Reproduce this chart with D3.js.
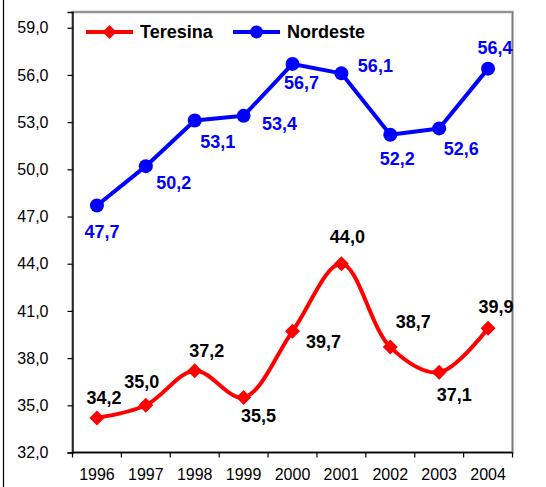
<!DOCTYPE html>
<html>
<head>
<meta charset="utf-8">
<script src="https://cdn.jsdelivr.net/npm/d3@7"></script>
<style>
  html, body { margin: 0; padding: 0; background: #fff; }
  svg { display: block; font-family: "Liberation Sans", Arial, sans-serif; }
</style>
</head>
<body>
<svg id="chart" width="546" height="487"></svg>
<script>
// Years on the category axis
const years = ["1996", "1997", "1998", "1999", "2000", "2001", "2002", "2003", "2004"];
// Series values
const teresina = [34.2, 35.0, 37.2, 35.5, 39.7, 44.0, 38.7, 37.1, 39.9];
const nordeste = [47.7, 50.2, 53.1, 53.4, 56.7, 56.1, 52.2, 52.6, 56.4];
// Value axis ticks
const yTicks = [32, 35, 38, 41, 44, 47, 50, 53, 56, 59];

// Label placement around each marker (pixels)
const teresinaLabelOffset = [[7,-20],[-4,-23],[12,-20],[15,19],[31,11],[6,-27],[23,-25],[15,23],[8,-21]];
const nordesteLabelOffset = [[5,26],[28,17],[23,21],[36,8],[9,19],[34,-7],[7,24],[22,21],[7,-21]];

const fmt = v => v.toFixed(1).replace(".", ",");

const svg = d3.select("#chart");
const plotLeft = 72.5, plotRight = 512.5, plotTop = 12, plotBottom = 452.5;

const x = d3.scaleBand().domain(years).range([plotLeft, plotRight]);
const cx = d => x(d) + x.bandwidth() / 2;
const y = d3.scaleLinear().domain([32, 60]).range([plotBottom, plotTop]);

// outer frame edge
svg.append("line").attr("x1", 3.5).attr("x2", 3.5).attr("y1", 0).attr("y2", 487)
  .attr("stroke", "#000").attr("stroke-width", 1.2);

// plot area border
svg.append("rect").attr("x", plotLeft).attr("y", plotTop)
  .attr("width", plotRight - plotLeft).attr("height", plotBottom - plotTop)
  .attr("fill", "none").attr("stroke", "#c8c8c8").attr("stroke-width", 3);
svg.append("rect").attr("x", plotLeft).attr("y", plotTop)
  .attr("width", plotRight - plotLeft).attr("height", plotBottom - plotTop)
  .attr("fill", "none").attr("stroke", "#7a7a7a").attr("stroke-width", 1.3);

// value axis
const yAxis = svg.append("g").attr("transform", `translate(${plotLeft},0)`)
  .call(d3.axisLeft(y).tickValues(yTicks).tickSize(5).tickPadding(19).tickFormat(fmt));
yAxis.select(".domain").attr("stroke", "#000").attr("stroke-width", 1.3);
yAxis.selectAll(".tick line").attr("stroke", "#000").attr("stroke-width", 1.2);
yAxis.selectAll("text").attr("font-size", 16).attr("fill", "#000")
  .attr("font-family", "Liberation Sans, Arial, sans-serif");

// category axis, ticks between categories
const xAxis = svg.append("g").attr("transform", `translate(0,${plotBottom})`);
xAxis.append("line").attr("x1", plotLeft).attr("x2", plotRight).attr("y1", 0).attr("y2", 0)
  .attr("stroke", "#000").attr("stroke-width", 1.3);
const bounds = years.map(d => x(d)).concat([plotRight]);
xAxis.selectAll("line.tk").data(bounds).join("line").attr("class", "tk")
  .attr("x1", d => d).attr("x2", d => d).attr("y1", 0).attr("y2", 5)
  .attr("stroke", "#000").attr("stroke-width", 1.2);
xAxis.selectAll("text").data(years).join("text")
  .attr("x", d => cx(d)).attr("y", 22)
  .attr("text-anchor", "middle").attr("dominant-baseline", "central")
  .attr("font-size", 16).attr("fill", "#000").text(d => d);

// series lines
const red = "#ff0000", blue = "#0000ff";
const lineSmooth = d3.line().x((d, i) => cx(years[i])).y(d => y(d)).curve(d3.curveCatmullRom.alpha(0.5));
const lineStraight = d3.line().x((d, i) => cx(years[i])).y(d => y(d));

svg.append("path").datum(nordeste).attr("d", lineStraight)
  .attr("fill", "none").attr("stroke", blue).attr("stroke-width", 4).attr("stroke-linejoin", "round");
svg.append("path").datum(teresina).attr("d", lineSmooth)
  .attr("fill", "none").attr("stroke", red).attr("stroke-width", 4).attr("stroke-linejoin", "round");

// markers
const diamondPath = h => `M0,${-h}L${h},0L0,${h}L${-h},0Z`;
svg.selectAll("circle.nd").data(nordeste).join("circle").attr("class", "nd")
  .attr("cx", (d, i) => cx(years[i])).attr("cy", d => y(d)).attr("r", 7).attr("fill", blue);
svg.selectAll("path.te").data(teresina).join("path").attr("class", "te")
  .attr("d", diamondPath(7.5))
  .attr("transform", (d, i) => `translate(${cx(years[i])},${y(d)})`).attr("fill", red);

// value labels
svg.selectAll("text.ndl").data(nordeste).join("text").attr("class", "ndl")
  .attr("x", (d, i) => cx(years[i]) + nordesteLabelOffset[i][0])
  .attr("y", (d, i) => y(d) + nordesteLabelOffset[i][1])
  .attr("text-anchor", "middle").attr("dominant-baseline", "central")
  .attr("font-size", 18).attr("font-weight", "bold").attr("fill", blue).text(fmt);
svg.selectAll("text.tel").data(teresina).join("text").attr("class", "tel")
  .attr("x", (d, i) => cx(years[i]) + teresinaLabelOffset[i][0])
  .attr("y", (d, i) => y(d) + teresinaLabelOffset[i][1])
  .attr("text-anchor", "middle").attr("dominant-baseline", "central")
  .attr("font-size", 18).attr("font-weight", "bold").attr("fill", "#000").text(fmt);

// legend
const legend = svg.append("g").attr("transform", "translate(0,32)");
const legendItems = [
  { name: "Teresina", color: red, x0: 86, shape: "diamond" },
  { name: "Nordeste", color: blue, x0: 233, shape: "circle" }
];
legendItems.forEach(it => {
  legend.append("line").attr("x1", it.x0).attr("x2", it.x0 + 47).attr("y1", 0).attr("y2", 0)
    .attr("stroke", it.color).attr("stroke-width", 4);
  if (it.shape === "diamond") {
    legend.append("path").attr("d", diamondPath(7)).attr("transform", `translate(${it.x0 + 23.5},0)`).attr("fill", it.color);
  } else {
    legend.append("circle").attr("cx", it.x0 + 23.5).attr("cy", 0).attr("r", 6.5).attr("fill", it.color);
  }
  legend.append("text").attr("x", it.x0 + 54).attr("y", 0).attr("dominant-baseline", "central")
    .attr("font-size", 18).attr("font-weight", "bold").attr("fill", "#000").text(it.name);
});
</script>
</body>
</html>
